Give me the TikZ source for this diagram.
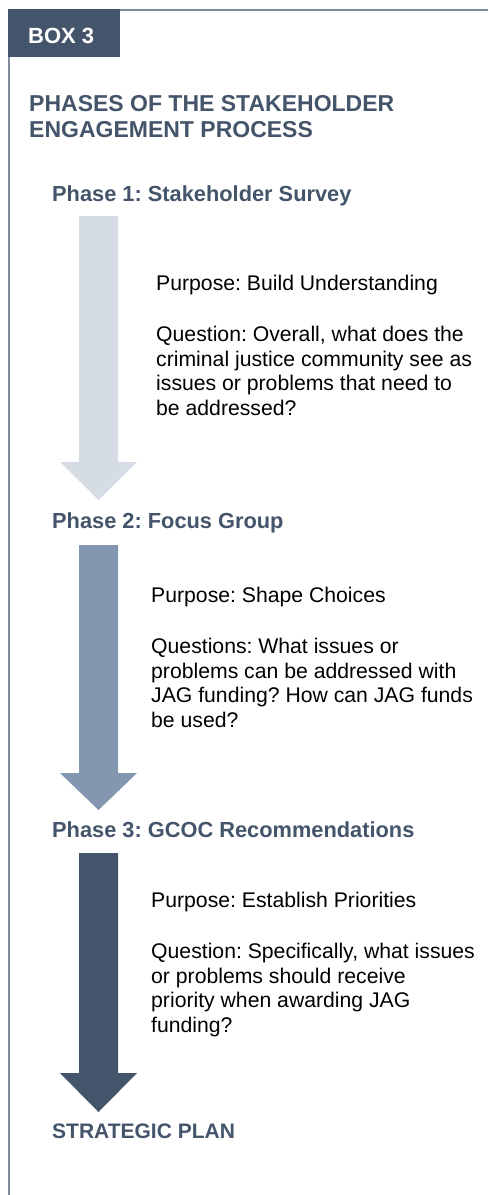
\documentclass[tikz,border=0pt]{standalone}
\usepackage{fontspec}
\setmainfont{Liberation Sans}
\usepackage{tikz}
\usepackage{xcolor}
\usetikzlibrary{positioning}

\definecolor{slate}{HTML}{44546A}
\definecolor{steel}{HTML}{8497B0}
\definecolor{mist}{HTML}{D6DCE4}
\definecolor{frame}{HTML}{7F8B9B}

\begin{document}
\frenchspacing
\begin{tikzpicture}[x=1pt, y=-1pt,
    heading/.style={anchor=base west, inner sep=0pt, text=slate, font=\bfseries\fontsize{23}{26}\selectfont, align=left},
    phase/.style={anchor=base west, inner sep=0pt, text=slate, font=\bfseries\fontsize{21.8}{25}\selectfont},
    body/.style={anchor=base west, inner sep=0pt, text=black, font=\fontsize{21.2}{24.5}\selectfont, align=left}]
            \useasboundingbox (0, 0) rectangle (488, 1195);

            % frame and tab
            \draw[frame, line width=2pt] (488, 10) -- (9, 10) -- (9, 1195);
            \fill[slate] (8, 9) rectangle (120, 57);
            \node[anchor=base west, inner sep=0pt, text=white, font=\bfseries\fontsize{22}{26}\selectfont] (box) at (28, 43) {BOX 3};

            % base anchor sits on the last line
            \node[heading] (title) at (29, 137) {PHASES OF THE STAKEHOLDER\\ENGAGEMENT PROCESS};

            % phase labels
            \node[phase] (phaseone) at (52, 201) {Phase 1: Stakeholder Survey};
            \node[phase] (phasetwo) at (52, 528) {Phase 2: Focus Group};
            \node[phase] (phasethree) at (52, 837) {Phase 3: GCOC Recommendations};
            \node[phase, font=\bfseries\fontsize{21}{24}\selectfont] (plan) at (52, 1138) {STRATEGIC PLAN};

            % arrows
            \fill[mist] (79, 216) -- (118, 216) -- (118, 462) -- (137, 462) -- (98.5, 500) -- (60, 462) -- (79, 462) -- cycle;
            \fill[steel] (79, 545) -- (118, 545) -- (118, 773) -- (137, 773) -- (98.5, 810) -- (60, 773) -- (79, 773) -- cycle;
            \fill[slate] (79, 853) -- (118, 853) -- (118, 1073) -- (137, 1073) -- (98.5, 1112) -- (60, 1073) -- (79, 1073) -- cycle;

            % purpose and questions
            \node[body] (textone) at (156, 415) {Purpose: Build Understanding\\[27pt]
                Question: Overall, what does the\\criminal justice community see as\\issues or problems that need to\\be addressed?};
            \node[body] (texttwo) at (151, 727) {Purpose: Shape Choices\\[27pt]
                Questions: What issues or\\problems can be addressed with\\JAG funding? How can JAG funds\\be used?};
            \node[body] (textthree) at (151, 1032) {Purpose: Establish Priorities\\[27pt]
                Question: Specifically, what issues\\or problems should receive\\priority when awarding JAG\\funding?};
        \end{tikzpicture}
\end{document}
